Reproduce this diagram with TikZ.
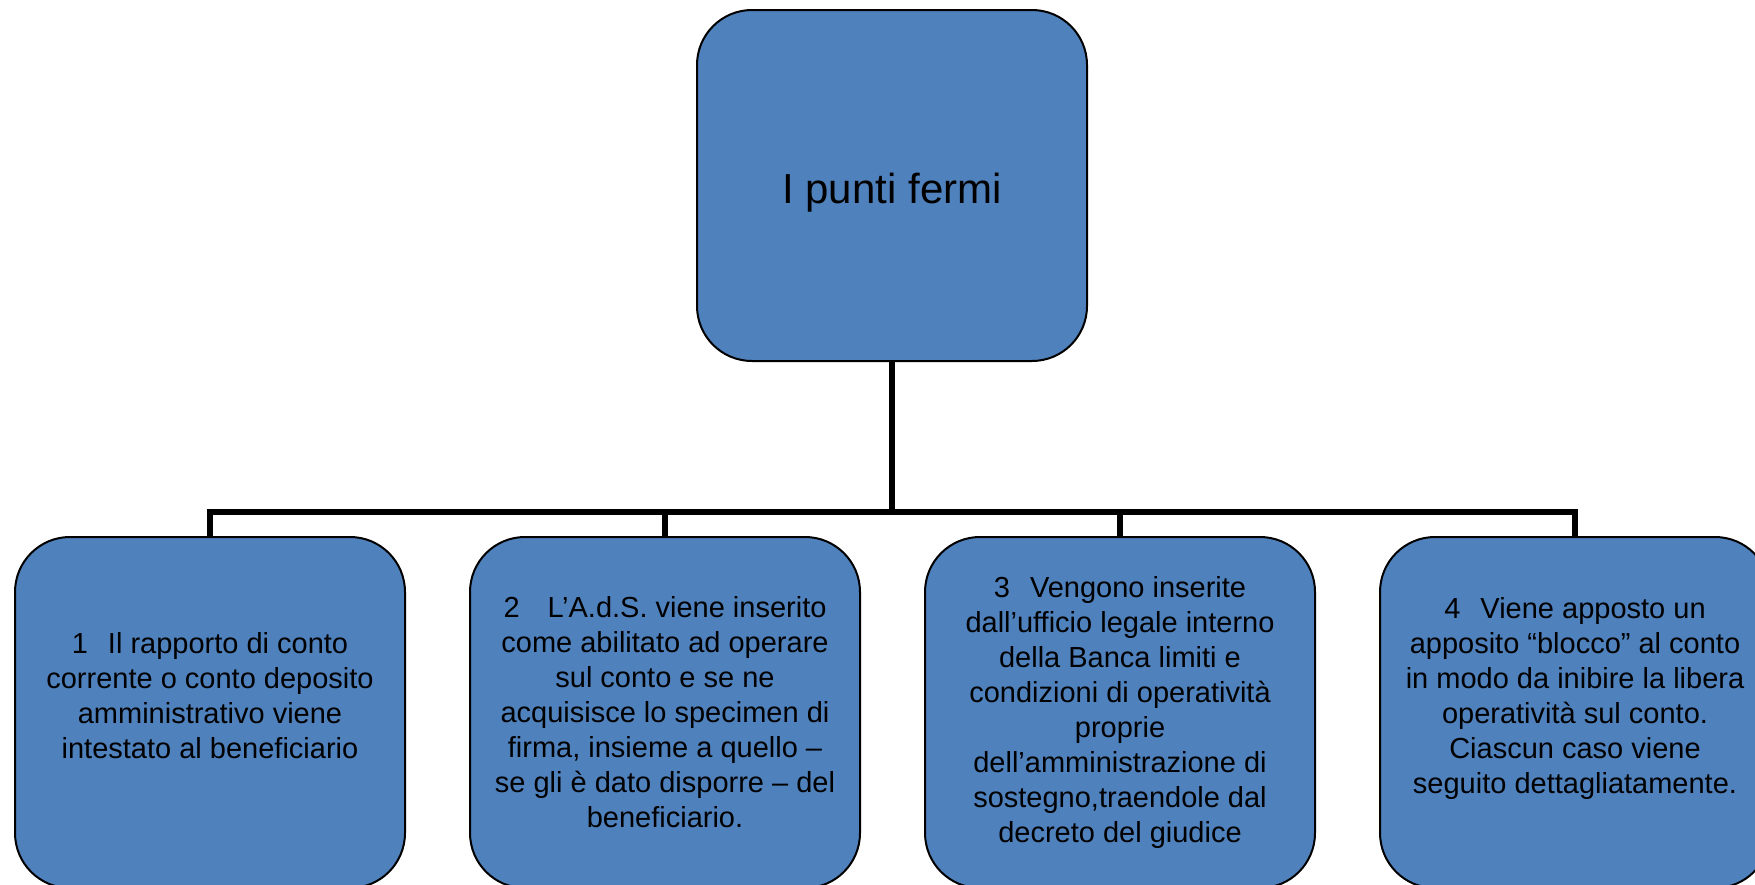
\documentclass[tikz,border=0pt]{standalone}
\usepackage{fontspec}
\setmainfont{Liberation Sans}
\definecolor{boxblue}{HTML}{4F81BD}
\begin{document}
\begin{tikzpicture}[x=0.5pt,y=-0.5pt,
  box/.style={draw=black, line width=1pt, fill=boxblue, rounded corners=27.5pt,
    minimum width=195pt, minimum height=175.5pt, inner sep=0pt, align=center,
    font=\fontsize{14.5pt}{17.5pt}\selectfont},
  topbox/.style={box, font=\fontsize{21pt}{25pt}\selectfont, text height=22.5pt, text depth=4.5pt},
  conn/.style={draw=black, line width=2.7pt}]
\useasboundingbox (0,0) rectangle (1755,884);
\node[topbox] (top) at (892,185.5) {I punti fermi};
\node[box] (b1) at (210,712.5) {1\hspace{10pt}Il rapporto di conto\\corrente o conto deposito\\amministrativo viene\\intestato al beneficiario\\\mbox{}};
\node[box] (b2) at (665,712.5) {2\hspace{14pt}L’A.d.S. viene inserito\\come abilitato ad operare\\sul conto e se ne\\acquisisce lo specimen di\\firma, insieme a quello –\\se gli è dato disporre – del\\beneficiario.};
\node[box] (b3) at (1120,712.5) {3\hspace{10pt}Vengono inserite\\dall’ufficio legale interno\\della Banca limiti e\\condizioni di operatività\\proprie\\dell’amministrazione di\\sostegno,traendole dal\\decreto del giudice};
\node[box] (b4) at (1575,712.5) {4\hspace{10pt}Viene apposto un\\apposito “blocco” al conto\\in modo da inibire la libera\\operatività sul conto.\\Ciascun caso viene\\seguito dettagliatamente.\\\mbox{}};
\coordinate (bar) at (892,512);
\draw[conn] (top.south) -- (bar);
\draw[conn] (b1.north) |- (bar);
\draw[conn] (b2.north) |- (bar);
\draw[conn] (b3.north) |- (bar);
\draw[conn] (b4.north) |- (bar);
\end{tikzpicture}
\end{document}
